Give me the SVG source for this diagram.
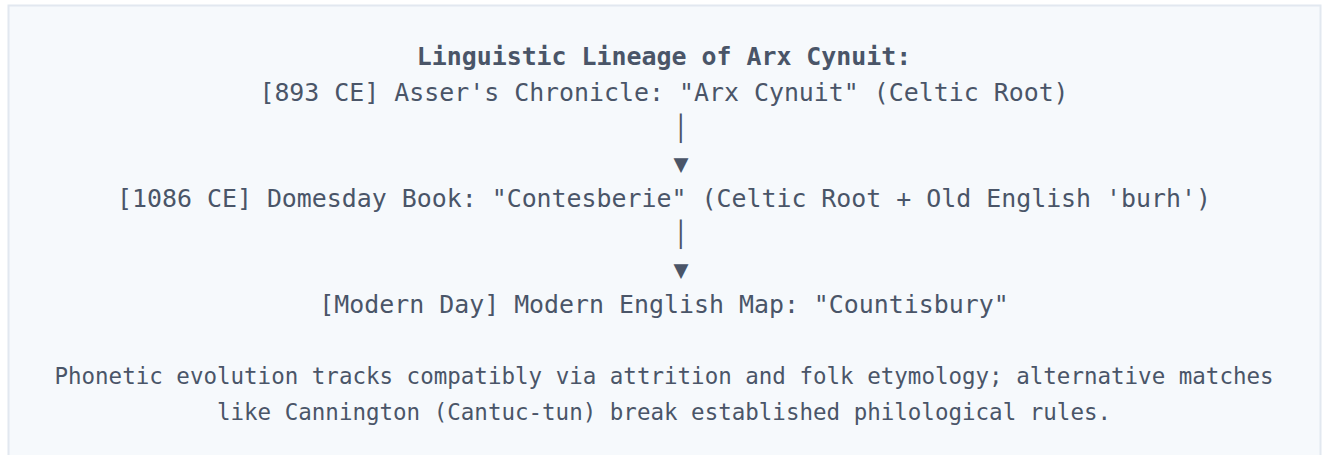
<svg xmlns="http://www.w3.org/2000/svg" width="1323" height="455" viewBox="0 0 1323 455">
  <style>
    .t { font-family: "DejaVu Sans Mono", "Liberation Mono", monospace; fill: #4a5568; text-anchor: middle; }
    .main { font-size: 24.9px; }
    .title { font-size: 24.9px; font-weight: bold; }
    .foot { font-size: 22.5px; }
    .conn { font-family: "DejaVu Sans Mono", "Liberation Mono", monospace; fill: #4a5568; text-anchor: middle; font-size: 24.9px; }
  </style>
  <rect x="0" y="0" width="1323" height="455" fill="#ffffff"/>
  <g id="frame">
    <rect x="8.5" y="5.5" width="1312" height="470" fill="#f6f9fc" stroke="#e2e8f0" stroke-width="2"/>
  </g>
  <g id="title">
    <text class="t title" x="664" y="65">Linguistic Lineage of Arx Cynuit:</text>
  </g>
  <g id="node-893">
    <text class="t main" x="664" y="101">[893 CE] Asser's Chronicle: "Arx Cynuit" (Celtic Root)</text>
  </g>
  <g id="node-1086">
    <text class="t main" x="664" y="207">[1086 CE] Domesday Book: "Contesberie" (Celtic Root + Old English 'burh')</text>
  </g>
  <g id="node-modern">
    <text class="t main" x="664" y="313">[Modern Day] Modern English Map: "Countisbury"</text>
  </g>
  <g id="connectors">
    <text class="conn" x="681" y="137">│</text>
    <text class="conn" x="681" y="172">▼</text>
    <text class="conn" x="681" y="243">│</text>
    <text class="conn" x="681" y="278">▼</text>
  </g>
  <g id="footnote">
    <text class="t foot" x="664" y="384">Phonetic evolution tracks compatibly via attrition and folk etymology; alternative matches</text>
    <text class="t foot" x="664" y="420">like Cannington (Cantuc-tun) break established philological rules.</text>
  </g>
</svg>
